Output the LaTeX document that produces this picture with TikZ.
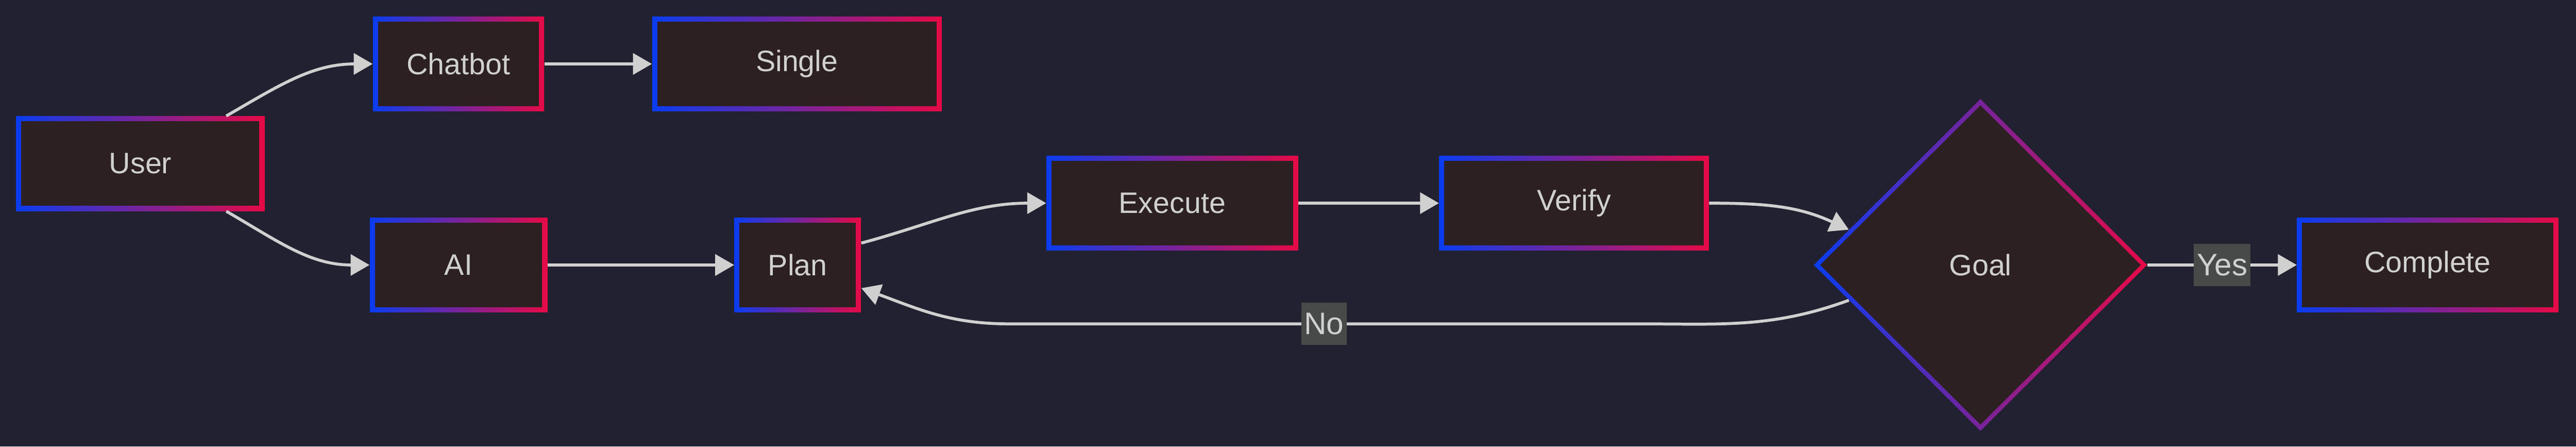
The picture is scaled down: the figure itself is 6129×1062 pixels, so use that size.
\documentclass[tikz,border=0pt]{standalone}
\usepackage{fontspec}
\setmainfont{Liberation Sans}
\usetikzlibrary{positioning,arrows.meta,shapes.geometric}

\definecolor{bgcol}{RGB}{34,33,49}
\definecolor{boxfill}{RGB}{44,32,34}
\definecolor{edgecol}{RGB}{208,208,208}
\definecolor{lblfill}{RGB}{71,74,72}
\definecolor{bordblue}{RGB}{10,60,240}
\definecolor{bordred}{RGB}{230,10,70}

\tikzset{
  box/.style={rectangle, inner sep=0pt, minimum height=2.25cm,
    left color=bordblue, right color=bordred, text=edgecol,
    font=\fontsize{20}{24}\selectfont,
    path picture={\fill[boxfill]
      ([shift={(0.12cm,0.12cm)}]path picture bounding box.south west) rectangle
      ([shift={(-0.12cm,-0.12cm)}]path picture bounding box.north east);}},
  decision/.style={diamond, inner sep=0pt, minimum width=7.93cm, minimum height=7.89cm,
    left color=bordblue, right color=bordred, text=edgecol,
    font=\fontsize{20}{24}\selectfont,
    path picture={\fill[boxfill]
      ([yshift=-0.15cm]path picture bounding box.north) --
      ([xshift=-0.15cm]path picture bounding box.east) --
      ([yshift=0.15cm]path picture bounding box.south) --
      ([xshift=0.15cm]path picture bounding box.west) -- cycle;}},
  edge/.style={draw=edgecol, line width=2pt, -{Triangle[length=0.45cm,width=0.5cm]}},
  lbl/.style={fill=lblfill, text=edgecol, inner sep=2pt, minimum height=1.0cm,
    font=\fontsize{21}{24}\selectfont}
}

\begin{document}
\begin{tikzpicture}[x=0.01cm,y=0.01cm]
% background
\fill[bgcol] (0,0) rectangle (6129,1062);
\useasboundingbox (0,0) rectangle (6129,1062);

% nodes
\node[box, minimum width=5.9cm] (User) at (334,673) {User};
\node[box, minimum width=4.07cm] (Chatbot) at (1091,910) {Chatbot};
\node[box, minimum width=6.88cm] (Single) at (1896,910) {Single};
\node[box, minimum width=4.22cm] (AI) at (1091,432) {AI};
\node[box, minimum width=3.01cm] (Plan) at (1898,432) {Plan};
\node[box, minimum width=5.98cm] (Execute) at (2789,579) {Execute};
\node[box, minimum width=6.41cm] (Verify) at (3745,579) {Verify};
\node[decision] (Goal) at (4712,432) {Goal};
\node[box, minimum width=6.21cm] (Complete) at (5776,432) {Complete};

\coordinate (noR) at (3900,292);
\coordinate (noL) at (2400,292);

% connectors
\draw[edge] (User.29) to[out=30,in=180] (Chatbot.west);
\draw[edge] (Chatbot) -- (Single);
\draw[edge] (User.-29) to[out=-30,in=180] (AI.west);
\draw[edge] (AI) -- (Plan);
\draw[edge] (Plan.19) to[out=15,in=180] (Execute.west);
\draw[edge] (Execute) -- (Verify);
\draw[edge] (Verify.east) to[out=0,in=155] (Goal.165);
\draw[edge] (Goal) -- node[lbl] {Yes} (Complete);
\draw[edge] (Goal.195) to[out=200,in=0] (noR) -- node[lbl] {No} (noL)
  to[out=180,in=-20] (Plan.-20);
\end{tikzpicture}
\end{document}
